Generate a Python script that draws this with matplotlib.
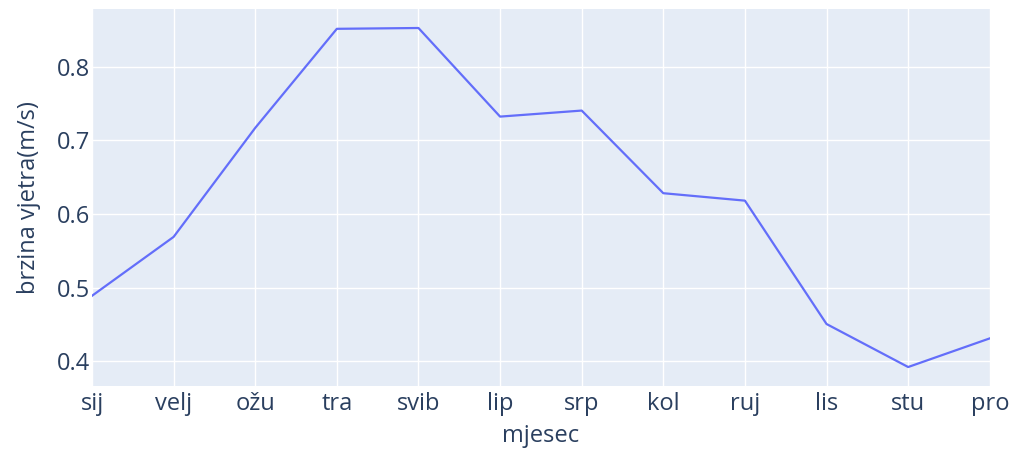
import matplotlib
matplotlib.use('Agg')
import matplotlib.pyplot as plt

# data
months = ['sij', 'velj', 'ožu', 'tra', 'svib', 'lip', 'srp', 'kol', 'ruj', 'lis', 'stu', 'pro']
speed = [0.489, 0.569, 0.717, 0.8515, 0.8526, 0.7323, 0.7405, 0.6283, 0.6182, 0.4507, 0.3923, 0.4312]
yticks = [0.4, 0.5, 0.6, 0.7, 0.8]

plt.rcParams['font.family'] = ['Open Sans', 'DejaVu Sans']
text_col = '#2a3f5f'

fig = plt.figure(figsize=(10.11, 4.5), dpi=100)
ax = fig.add_axes([0.091, 0.142, 0.888, 0.838])
ax.set_facecolor('#E5ECF6')

pos = list(range(len(months)))
ax.plot(pos, speed, color='#636EFA', linewidth=1.6, zorder=3)

ax.set_xlim(0, len(months) - 1)
ax.set_ylim(0.3664, 0.8784)
ax.set_xticks(pos)
ax.set_xticklabels(months)
ax.set_yticks(yticks)
ax.set_yticklabels([str(t) for t in yticks])
ax.grid(True, color='white', linewidth=1)
ax.set_axisbelow(True)
for s in ax.spines.values():
    s.set_visible(False)
ax.tick_params(length=0, labelsize=17, colors=text_col)
ax.tick_params(axis='y', pad=1)
ax.tick_params(axis='x', pad=4)

ax.set_xlabel('mjesec', fontsize=17, color=text_col, labelpad=6)
ax.set_ylabel('brzina vjetra(m/s)', fontsize=17, color=text_col, labelpad=12)

fig.savefig('out.png', dpi=100)
